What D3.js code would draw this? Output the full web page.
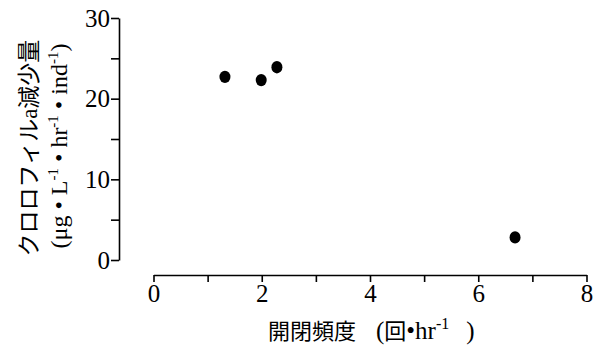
<!DOCTYPE html>
<html lang="ja">
<head>
  <meta charset="UTF-8">
  <title>開閉頻度</title>
  <script src="https://d3js.org/d3.v7.min.js"></script>
  <style>
    body { margin: 0; background: #fff; }
    text { font-family: "Liberation Serif", "Noto Sans CJK JP", serif; fill: #000; }
  </style>
</head>
<body>
  <div id="chart"></div>
  <script>
    // data
    var freq = [1.32, 1.99, 2.28, 6.68];
    var chlReduction = [22.7, 22.3, 23.9, 2.8];
    var xTicks = [0, 2, 4, 6, 8];
    var xMinor = [1, 3, 5, 7];
    var yTicks = [0, 10, 20, 30];
    var yMinor = [5, 15, 25];

    var W = 594, H = 347;
    var svg = d3.select("#chart").append("svg")
      .attr("width", W).attr("height", H);

    var x = d3.scaleLinear().domain([0, 8]).range([153.5, 586.5]);
    var y = d3.scaleLinear().domain([0, 30]).range([260, 18]);

    // x axis, detached below the plot
    var xAxis = svg.append("g").attr("transform", "translate(0,275)");
    xAxis.call(d3.axisBottom(x).tickValues(xTicks).tickSize(7).tickSizeOuter(0).tickPadding(2).tickFormat(d3.format("d")));
    xAxis.append("g").call(d3.axisBottom(x).tickValues(xMinor).tickSize(7).tickSizeOuter(0).tickFormat(""))
      .select(".domain").remove();

    // y axis
    var yAxis = svg.append("g").attr("transform", "translate(119,0)");
    yAxis.call(d3.axisLeft(y).tickValues(yTicks).tickSize(8).tickSizeOuter(0).tickPadding(1).tickFormat(d3.format("d")));
    yAxis.append("g").call(d3.axisLeft(y).tickValues(yMinor).tickSize(8).tickSizeOuter(0).tickFormat(""))
      .select(".domain").remove();

    svg.selectAll(".domain, .tick line").attr("stroke", "#000").attr("stroke-width", 1.6);
    svg.selectAll(".tick text").style("font-size", "25px").style("font-family", "Liberation Serif");

    // points
    svg.selectAll("ellipse.pt").data(freq).enter().append("ellipse")
      .attr("class", "pt")
      .attr("cx", function (d) { return x(d); })
      .attr("cy", function (d, i) { return y(chlReduction[i]); })
      .attr("rx", 5.5).attr("ry", 6.2)
      .attr("fill", "#000");

    // x title
    var xt = svg.append("text").attr("x", 268).attr("y", 339)
      .style("font-size", "25px");
    xt.append("tspan").style("font-size", "22px").text("開閉頻度");
    xt.append("tspan").attr("dx", 20).text("(");
    xt.append("tspan").style("font-size", "22px").text("回");
    xt.append("tspan").text("•hr");
    xt.append("tspan").attr("dy", -10).style("font-size", "16px").text("-1");
    xt.append("tspan").attr("dy", 10).attr("dx", 17).text(")");

    // y title, two rotated lines
    svg.append("text")
      .attr("transform", "translate(37,148) rotate(-90)")
      .attr("text-anchor", "middle").style("font-size", "23px")
      .text("クロロフィルa減少量");

    var yt2 = svg.append("text")
      .attr("transform", "translate(67,146) rotate(-90)")
      .attr("text-anchor", "middle").style("font-size", "24px");
    var gap = 6;
    yt2.append("tspan").text("(μg");
    yt2.append("tspan").attr("dx", gap).text("•");
    yt2.append("tspan").attr("dx", gap).text("L");
    yt2.append("tspan").attr("dy", -9).style("font-size", "15px").text("-1");
    yt2.append("tspan").attr("dy", 9).attr("dx", gap).text("•");
    yt2.append("tspan").attr("dx", gap).text("hr");
    yt2.append("tspan").attr("dy", -9).style("font-size", "15px").text("-1");
    yt2.append("tspan").attr("dy", 9).attr("dx", gap).text("•");
    yt2.append("tspan").attr("dx", gap).text("ind");
    yt2.append("tspan").attr("dy", -9).style("font-size", "15px").text("-1");
    yt2.append("tspan").attr("dy", 9).text(")");
  </script>
</body>
</html>
